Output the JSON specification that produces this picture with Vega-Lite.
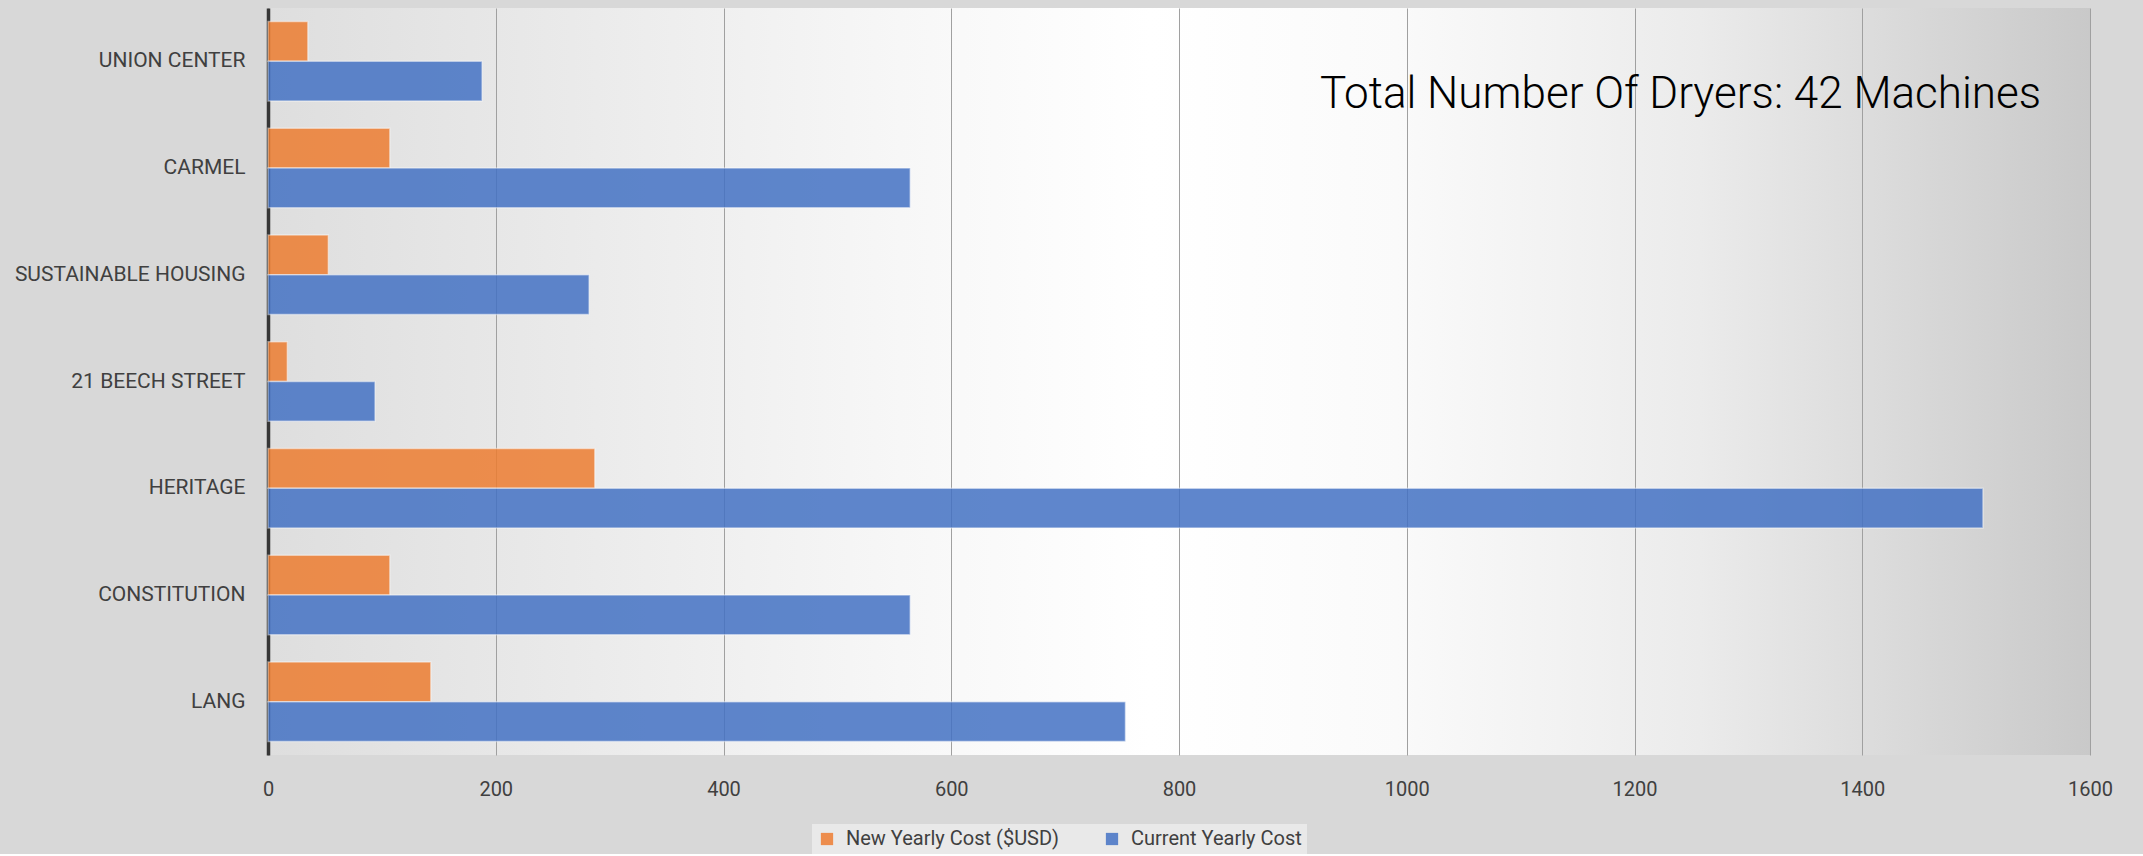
{
  "$schema": "https://vega.github.io/schema/vega-lite/v6.json",
  "width": 1822,
  "height": 747,
  "autosize": {"type": "pad"},
  "padding": {"left": 0, "top": 8, "right": 53, "bottom": 0},
  "background": "#d8d8d8",
  "config": {
    "font": "Roboto",
    "view": {
      "stroke": null,
      "fill": {
        "gradient": "linear",
        "x1": 0, "y1": 0, "x2": 1, "y2": 0,
        "stops": [
          {"offset": 0, "color": "#dedede"},
          {"offset": 0.347, "color": "#f7f7f7"},
          {"offset": 0.484, "color": "#ffffff"},
          {"offset": 0.62, "color": "#fafafa"},
          {"offset": 0.786, "color": "#ebebeb"},
          {"offset": 1, "color": "#c9c9c9"}
        ]
      }
    },
    "axis": {
      "labelFont": "Roboto",
      "labelFontSize": 20,
      "labelColor": "#404040",
      "ticks": false,
      "title": null
    },
    "legend": {
      "labelFont": "Roboto",
      "labelFontSize": 20,
      "labelColor": "#404040",
      "labelLimit": 500
    }
  },
  "layer": [
    {
      "data": {
        "values": [
          {"site": "UNION CENTER", "series": "New Yearly Cost ($USD)", "value": 35},
          {"site": "UNION CENTER", "series": "Current Yearly Cost", "value": 188},
          {"site": "CARMEL", "series": "New Yearly Cost ($USD)", "value": 107},
          {"site": "CARMEL", "series": "Current Yearly Cost", "value": 564},
          {"site": "SUSTAINABLE HOUSING", "series": "New Yearly Cost ($USD)", "value": 53},
          {"site": "SUSTAINABLE HOUSING", "series": "Current Yearly Cost", "value": 282},
          {"site": "21 BEECH STREET", "series": "New Yearly Cost ($USD)", "value": 17},
          {"site": "21 BEECH STREET", "series": "Current Yearly Cost", "value": 94},
          {"site": "HERITAGE", "series": "New Yearly Cost ($USD)", "value": 287},
          {"site": "HERITAGE", "series": "Current Yearly Cost", "value": 1506},
          {"site": "CONSTITUTION ", "series": "New Yearly Cost ($USD)", "value": 107},
          {"site": "CONSTITUTION ", "series": "Current Yearly Cost", "value": 564},
          {"site": "LANG", "series": "New Yearly Cost ($USD)", "value": 143},
          {"site": "LANG", "series": "Current Yearly Cost", "value": 753}
        ]
      },
      "mark": {"type": "bar", "opacity": 0.85, "stroke": "#ffffff", "strokeOpacity": 0.5, "strokeWidth": 1.5},
      "encoding": {
        "y": {
          "field": "site",
          "type": "nominal",
          "sort": ["UNION CENTER", "CARMEL", "SUSTAINABLE HOUSING", "21 BEECH STREET", "HERITAGE", "CONSTITUTION ", "LANG"],
          "scale": {"paddingInner": 0.255, "paddingOuter": 0.1275},
          "axis": {
            "domain": true,
            "domainColor": "#363636",
            "domainWidth": 3.5,
            "grid": false,
            "labelFontSize": 21,
            "labelPadding": 23,
            "labelLimit": 400,
            "minExtent": 268,
            "maxExtent": 268
          }
        },
        "yOffset": {
          "field": "series",
          "type": "nominal",
          "sort": ["New Yearly Cost ($USD)", "Current Yearly Cost"],
          "scale": {"paddingInner": 0, "paddingOuter": 0}
        },
        "x": {
          "field": "value",
          "type": "quantitative",
          "scale": {"domain": [0, 1600], "nice": false},
          "axis": {
            "values": [0, 200, 400, 600, 800, 1000, 1200, 1400, 1600],
            "format": "d",
            "domain": false,
            "grid": true,
            "gridColor": "#a0a0a0",
            "gridWidth": 1,
            "labelPadding": 24,
            "labelFlush": false
          }
        },
        "color": {
          "field": "series",
          "type": "nominal",
          "sort": ["New Yearly Cost ($USD)", "Current Yearly Cost"],
          "scale": {"domain": ["New Yearly Cost ($USD)", "Current Yearly Cost"], "range": ["#ED7D31", "#4472C4"]},
          "legend": {
            "title": null,
            "orient": "none",
            "direction": "horizontal",
            "legendX": 544,
            "legendY": 816,
            "padding": 5,
            "fillColor": "rgba(255,255,255,0.45)",
            "symbolType": "square",
            "symbolSize": 150,
            "symbolOpacity": 0.85,
            "symbolStrokeWidth": 0,
            "labelOffset": 9,
            "columnPadding": 42,
            "labelLimit": 500
          }
        }
      }
    },
    {
      "data": {"values": [{"label": "Total Number Of Dryers: 42 Machines"}]},
      "mark": {"type": "text", "align": "right", "baseline": "alphabetic", "dy": 47, "fontSize": 44, "font": "Roboto", "fontWeight": 300, "color": "#000000"},
      "encoding": {
        "x": {"datum": 1557, "type": "quantitative"},
        "y": {"datum": "UNION CENTER", "type": "nominal"},
        "text": {"field": "label"}
      }
    }
  ]
}
